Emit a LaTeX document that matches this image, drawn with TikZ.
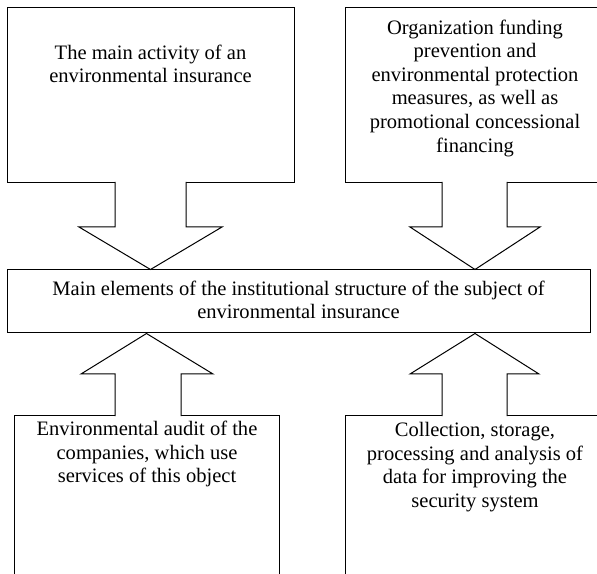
\documentclass[tikz,border=0pt]{standalone}
\usepackage{fontspec}
\setmainfont{Liberation Serif}
\usetikzlibrary{calc}

\tikzset{every picture/.style={line width=0.75pt}}
\tikzset{
  boxshape/.style={draw, rectangle, inner sep=0pt},
  boxtext/.style={align=center, inner sep=0pt, font=\fontsize{15.4}{17.7}\selectfont},
  blockarrow/.style={draw, fill=white, line join=miter}
}

\begin{document}
\begin{tikzpicture}[x=0.75pt,y=0.75pt,yscale=-1,xscale=1]
\useasboundingbox (0,0) rectangle (597,574);
\clip (0,0) rectangle (597,574);

%Shape: Rectangle [id:activity]
\node [boxshape, minimum width=287*0.75pt, minimum height=175*0.75pt] (activity) at (150.5,95.5) {};
%Shape: Rectangle [id:funding]
\node [boxshape, minimum width=260*0.75pt, minimum height=175*0.75pt] (funding) at (475,95.5) {};
%Shape: Rectangle [id:elements]
\node [boxshape, minimum width=583*0.75pt, minimum height=63*0.75pt] (elements) at (298.5,301.5) {};
%Shape: Rectangle [id:audit]
\node [boxshape, minimum width=265*0.75pt, minimum height=200*0.75pt] (audit) at (146.5,515) {};
%Shape: Rectangle [id:data]
\node [boxshape, minimum width=260*0.75pt, minimum height=200*0.75pt] (data) at (475,515) {};

%Shape: Block Arrow down [id:activity-elements]
\path [blockarrow] (115,182) -- (115,227) -- (79,227) -- (activity.south |- elements.north) -- (222,227) -- (186,227) -- (186,182) ;
%Shape: Block Arrow down [id:funding-elements]
\path [blockarrow] (442,182) -- (442,227) -- (410,227) -- (funding.south |- elements.north) -- (540,227) -- (507,227) -- (507,182) ;
%Shape: Block Arrow up [id:audit-elements]
\path [blockarrow] (115,416) -- (115,374) -- (81,374) -- (audit.north |- elements.south) -- (213,374) -- (181,374) -- (181,416) ;
%Shape: Block Arrow up [id:data-elements]
\path [blockarrow] (442,416) -- (442,374) -- (410,374) -- (data.north |- elements.south) -- (539,374) -- (507,374) -- (507,416) ;

% Text Node
\node [boxtext] (activitytext) at (150.5,64) {The main activity of an\\environmental insurance};
% Text Node
\node [boxtext] (fundingtext) at (475,88) {Organization funding\\prevention and\\environmental protection\\measures, as well as\\promotional concessional\\financing};
% Text Node
\node [boxtext] (elementstext) at (298.5,300) {Main elements of the institutional structure of the subject of\\environmental insurance};
% Text Node
\node [boxtext] (audittext) at (147,454) {Environmental audit of the\\companies, which use\\services of this object};
% Text Node
\node [boxtext] (datatext) at (475,467) {Collection, storage,\\processing and analysis of\\data for improving the\\security system};

\end{tikzpicture}
\end{document}
